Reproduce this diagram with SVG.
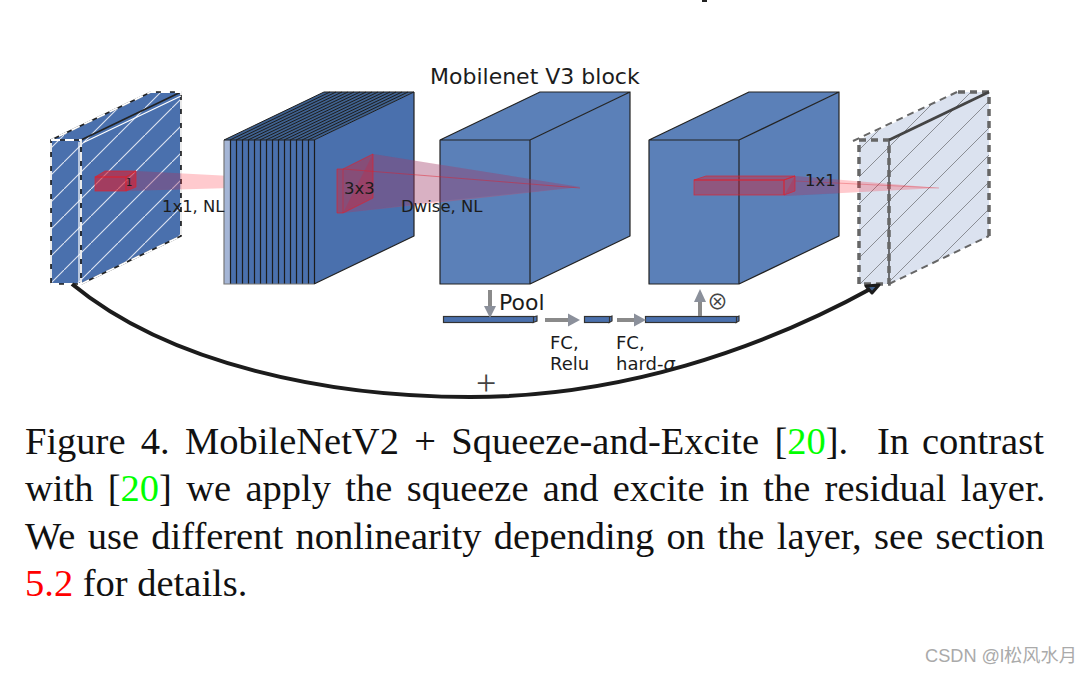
<svg xmlns="http://www.w3.org/2000/svg" width="1088" height="674" viewBox="0 0 1088 674">
<style>
.lab{font-family:"DejaVu Sans",sans-serif;fill:#1c1c1c}
.cap{font-family:"Liberation Serif",serif;font-size:38.500px;fill:#111}
.edge{stroke:#222;stroke-width:1.2;stroke-linejoin:round}
.wd{fill:none;stroke:#fff;stroke-width:1.800;stroke-dasharray:9 5}
.gd{fill:none;stroke:#666;stroke-width:3.500;stroke-dasharray:7 5}
.gs{fill:none;stroke:#666;stroke-width:2;stroke-dasharray:7 5}
.red{fill:#d81e30;fill-opacity:.62;stroke:#e0202c;stroke-opacity:.8;stroke-width:.8}
.redsoft{fill:#d81e30;fill-opacity:.42;stroke:#e0202c;stroke-opacity:.8;stroke-width:.8}
.cone{fill:#ff2a3a;fill-opacity:.25}
.ga{fill:none;stroke:#8a8a8a;stroke-width:4}
.gh{fill:#8b909b}
.bar{fill:#4a70ad;stroke:#333;stroke-width:1.200}
</style>
<defs>
<pattern id="hw" patternUnits="userSpaceOnUse" width="27" height="27" patternTransform="translate(10,0)"><path d="M-3 30L30 -3" stroke="#dfe6f2" stroke-width="1.1"/></pattern>
<pattern id="hg" patternUnits="userSpaceOnUse" width="27" height="27" patternTransform="translate(10,0)"><path d="M-3 30L30 -3" stroke="#8a8d94" stroke-width="1"/></pattern>
</defs>
<rect width="1088" height="674" fill="#fff"/>
<rect id="top-fragment" x="702" y="0" width="5" height="2" fill="#222"/>

<g id="input-block">
<polygon points="51,140 81,140 181,92 151,92" fill="#4a70ad"/>
<polygon points="81,140 181,92 181,236 81,284" fill="#4a70ad"/>
<rect x="51" y="140" width="30" height="144" fill="#4a70ad"/>
<polygon points="51,140 81,140 181,92 151,92" fill="url(#hw)"/>
<polygon points="81,140 181,92 181,236 81,284" fill="url(#hw)"/>
<rect x="51" y="140" width="30" height="144" fill="url(#hw)"/>
<path fill="none" stroke="#222" stroke-width="1.700" d="M51 140H81V284H51ZM81 284L181 236V92H151L51 140M81 140L181 92"/>
<path class="wd" d="M51 140H81V284H51ZM81 284L181 236V92H151L51 140"/>
<path d="M83.500 142.500L181 96M79 142V282" fill="none" stroke="#fff" stroke-width="1.200"/>
</g>
<g id="cone-left"><polygon class="cone" points="136,171 231,176 231,188 126,191"/><polygon fill="#3f4f9a" fill-opacity=".18" points="136,171 181,173.500 181,189 126,191"/></g>
<g id="box-1">
<polygon class="red" points="95,177 126,177 136,171 105,171"/>
<polygon class="red" points="126,177 136,171 136,187 126,191"/>
<rect class="red" x="95" y="177" width="31" height="14"/>
<text class="lab" x="126" y="186" font-size="10">1</text>
</g>

<g id="stack-block">
<polygon points="224,140 314,140 414,92 324,92" fill="#3f618f"/>
<polygon points="314,140 414,92 414,236 314,284" fill="#4a70ad"/>
<rect x="224" y="140" width="6.500" height="144" fill="#a5b6d6"/>
<rect x="230.500" y="140" width="84" height="144" fill="#4a70ad"/>
<path stroke="#1c1c1c" stroke-width="1" fill="none" d="M224 140L324 92M230 140L330 92M236 140L336 92M242 140L342 92M248 140L348 92M254 140L354 92M260 140L360 92M266 140L366 92M272 140L372 92M278 140L378 92M284 140L384 92M290 140L390 92M296 140L396 92M302 140L402 92M308 140L408 92M314 140L414 92H324"/>
<path stroke="#1c1c1c" stroke-width="1.200" fill="none" d="M230.500 140V284M236.500 140V284M242.500 140V284M248.500 140V284M254.500 140V284M260.500 140V284M266.500 140V284M272.500 140V284M278.500 140V284M284.500 140V284M290.500 140V284M296.500 140V284M302.500 140V284M308.500 140V284M314.500 140V284"/>
<path stroke="#777" stroke-width="1.200" fill="none" d="M224 140V284H314"/>
<path class="edge" fill="none" d="M224 140H314M314 284L414 236V92"/>
</g>

<g id="block-3">
<polygon points="440,140 530,140 630,92 540,92" fill="#5b80b8"/>
<polygon points="530,140 630,92 630,236 530,284" fill="#5b80b8"/>
<rect x="440" y="140" width="90" height="144" fill="#5b80b8"/>
<path class="edge" fill="none" d="M440 140H530V284H440ZM530 140L630 92V236L530 284M440 140L540 92H630"/>
</g>

<g id="box-3x3">
<polygon class="cone" points="373,154 580,187 343,213"/>
<polygon fill="#3f4f9a" fill-opacity=".2" points="373,154 440,164.700 440,201 343,213"/>
<polygon fill="#3f4f9a" fill-opacity=".2" points="440,164.700 580,187 440,201"/>
<polygon class="redsoft" points="337,169 343,169 373,154 373,198 343,213 337,213"/>
<path d="M343 169V213M343 169L580 188" stroke="#e0202c" stroke-opacity=".6" stroke-width=".8" fill="none"/>
</g>

<g id="block-4">
<polygon points="649,140 739,140 839,92 749,92" fill="#5b80b8"/>
<polygon points="739,140 839,92 839,236 739,284" fill="#5b80b8"/>
<rect x="649" y="140" width="90" height="144" fill="#5b80b8"/>
<path class="edge" fill="none" d="M649 140H739V284H649ZM739 140L839 92V236L739 284M649 140L749 92H839"/>
</g>

<g id="output-block">
<polygon points="859,140 889,140 989,92 957,92" fill="#dbe2ef"/>
<polygon points="889,140 989,92 989,236 889,284" fill="#dbe2ef"/>
<rect x="859" y="140" width="30" height="144" fill="#dbe2ef"/>
<polygon points="859,140 889,140 989,92 957,92" fill="url(#hg)"/>
<polygon points="889,140 989,92 989,236 889,284" fill="url(#hg)"/>
<rect x="859" y="140" width="30" height="144" fill="url(#hg)"/>
<path class="edge" fill="none" d="M889 140L989 92M889 284V140"/>
<path class="gd" d="M859 140H889V284H859ZM989 236V92H957"/>
<path class="gs" d="M889 284L989 236M957 92L853 141"/>
<path d="M889 140L989 92" stroke="#444" stroke-width="2.800" fill="none"/>
</g>

<g id="box-1x1">
<polygon class="cone" points="795,176 939,188 784,196"/>
<polygon fill="#3f4f9a" fill-opacity=".2" points="795,176 839,179.700 839,193.500 784,196"/>
<polygon class="redsoft" points="694,180 784,180 795,176 706,176"/>
<polygon class="redsoft" points="784,180 795,176 795,191 784,195"/>
<rect class="redsoft" x="694" y="180" width="90" height="15"/>
<path d="M795 181L939 188" stroke="#e0202c" stroke-opacity=".4" stroke-width=".8" fill="none"/>
</g>

<g id="bar-1"><polygon class="bar" points="533,317 537,316 537,321 533,322.500"/><rect class="bar" x="443.500" y="316.500" width="90" height="6"/></g>
<g id="bar-2"><polygon class="bar" points="609,317 612,316 612,321 609,322.500"/><rect class="bar" x="584.500" y="316.500" width="25" height="6"/></g>
<g id="bar-3"><polygon class="bar" points="736,317 739,316 739,321 736,322.500"/><rect class="bar" x="645.500" y="316.500" width="91" height="6"/></g>

<g id="connectors">
<path class="ga" d="M490 290V308"/><polygon class="gh" points="484,306 496,306 490,318"/>
<path class="ga" d="M545 320H570"/><polygon class="gh" points="568,313.500 580,320 568,326.500"/>
<path class="ga" d="M617 320H636"/><polygon class="gh" points="634,313.500 646,320 634,326.500"/>
<path class="ga" d="M700 316V300"/><polygon class="gh" points="694,302 706,302 700,289"/>
<path d="M72 284C170 365 330 397 470 397C620 397 760 350 874 287" fill="none" stroke="#1c1c1c" stroke-width="4"/>
<polygon points="879,285 866,286 872,293" fill="#3f618f" stroke="#1c1c1c" stroke-width="3" stroke-linejoin="round"/>
</g>

<g id="labels">
<text class="lab" x="430" y="84" font-size="22">Mobilenet V3 block</text>
<text class="lab" x="162" y="212" font-size="16.400">1x1, NL</text>
<text class="lab" x="344" y="194" font-size="16.500">3x3</text>
<text class="lab" x="401" y="212" font-size="16.500">Dwise, NL</text>
<text class="lab" x="805" y="186" font-size="16.500">1x1</text>
<text class="lab" x="499" y="310" font-size="22">Pool</text>
<text x="707" y="309" font-size="21" fill="#444" style="font-family:'Noto Sans CJK SC','DejaVu Sans',sans-serif">⊗</text>
<text class="lab" x="550" y="349" font-size="18">FC,</text>
<text class="lab" x="550" y="370" font-size="18">Relu</text>
<text class="lab" x="616" y="349" font-size="18">FC,</text>
<text class="lab" x="616" y="370" font-size="18">hard-<tspan font-style="italic">σ</tspan></text>
<text x="476" y="395" font-size="36" fill="#444" style="font-family:'Liberation Serif',serif">+</text>
</g>

<g id="caption">
<text class="cap" x="25" y="454" word-spacing="5.700">Figure 4. MobileNetV2 + Squeeze-and-Excite [<tspan fill="#00ff00">20</tspan>].<tspan x="877">In</tspan><tspan x="922">contrast</tspan></text>
<text class="cap" x="25" y="501" word-spacing="4.700">with [<tspan fill="#00ff00">20</tspan>] we apply the squeeze and excite in the residual layer.</text>
<text class="cap" x="25" y="549" word-spacing="2.700">We use different nonlinearity depending on the layer, see section</text>
<text class="cap" x="25" y="596"><tspan fill="#ff0000">5.2</tspan> for details.</text>
</g>

<text id="watermark" x="925" y="662" font-size="18.200" fill="#aaa" style="font-family:'Liberation Sans','Noto Sans CJK SC',sans-serif">CSDN @l松风水月</text>
</svg>
